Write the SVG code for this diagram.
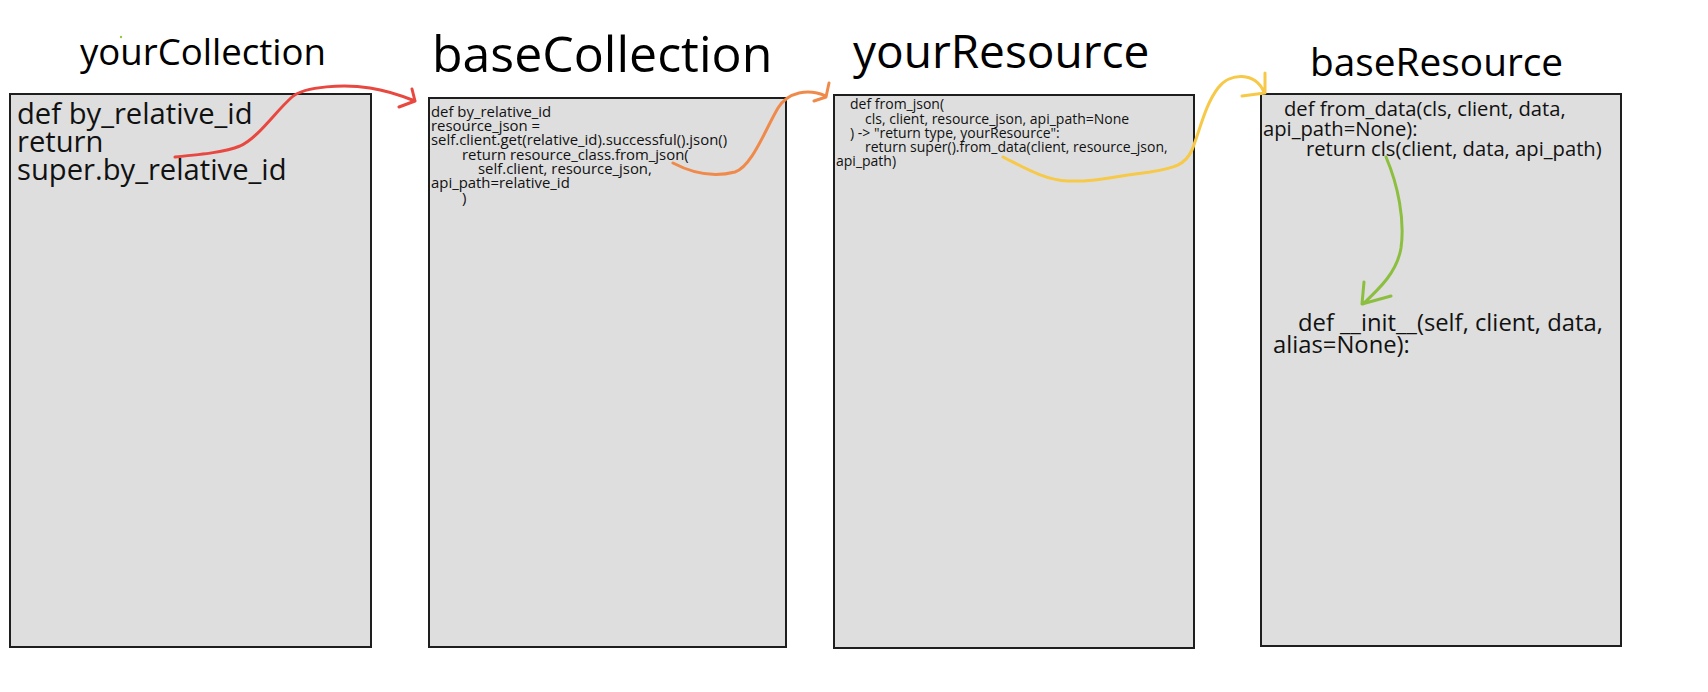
<svg xmlns="http://www.w3.org/2000/svg" width="1708" height="692" viewBox="0 0 1708 692">
<style>
text{font-family:"Open Sans","Noto Sans","DejaVu Sans",sans-serif;fill:#111}
.box{fill:#dedede;stroke:#1e1e1e;stroke-width:2}
.title{fill:#000}
.c1{font-size:29.2px}
.c2{font-size:14.9px}
.c3{font-size:14.0px}
.c4{font-size:20.2px}
.c5{font-size:23.8px}
.conn{fill:none;stroke-width:3;stroke-linecap:round;stroke-linejoin:round}
</style>
<rect width="1708" height="692" fill="#fff"/>
<circle cx="121" cy="37" r="1.2" fill="#9bc53d"/>
<g id="yourCollection">
<rect class="box" x="10" y="94" width="361" height="553"/>
<text class="title" x="80" y="65" font-size="36.6">yourCollection</text>
<text class="c1" x="17" y="124">def by_relative_id</text>
<text class="c1" x="17" y="152">return</text>
<text class="c1" x="17" y="180">super.by_relative_id</text>
</g>
<g id="baseCollection">
<rect class="box" x="429" y="98" width="357" height="549"/>
<text class="title" x="432" y="72" font-size="50">baseCollection</text>
<text class="c2" x="431" y="117">def by_relative_id</text>
<text class="c2" x="431" y="131">resource_json =</text>
<text class="c2" x="431" y="145">self.client.get(relative_id).successful().json()</text>
<text class="c2" x="462" y="160">return resource_class.from_json(</text>
<text class="c2" x="478" y="174">self.client, resource_json,</text>
<text class="c2" x="431" y="188">api_path=relative_id</text>
<text class="c2" x="462" y="203">)</text>
</g>
<g id="yourResource">
<rect class="box" x="834" y="95" width="360" height="553"/>
<text class="title" x="853" y="68" font-size="46">yourResource</text>
<text class="c3" x="850" y="109">def from_json(</text>
<text class="c3" x="865" y="124">cls, client, resource_json, api_path=None</text>
<text class="c3" x="850" y="138">) -&gt; "return type, yourResource":</text>
<text class="c3" x="865" y="152">return super().from_data(client, resource_json,</text>
<text class="c3" x="836" y="166">api_path)</text>
</g>
<g id="baseResource">
<rect class="box" x="1261" y="94" width="360" height="552"/>
<text class="title" x="1310" y="76" font-size="38.8">baseResource</text>
<text class="c4" x="1284" y="116">def from_data(cls, client, data,</text>
<text class="c4" x="1263" y="136">api_path=None):</text>
<text class="c4" x="1306" y="156">return cls(client, data, api_path)</text>
<text class="c5" x="1298" y="331">def __init__(self, client, data,</text>
<text class="c5" x="1273" y="353">alias=None):</text>
</g>
<g id="connectors">
<path class="conn" stroke="#e8483f" d="M175,157 C205,154 225,152 240,146 C258,138 275,112 292,97 C305,86 345,84 370,88 C390,91 405,97 415,101 M412,89 L415,101 L399,107"/>
<path class="conn" stroke="#f08a4b" d="M673,163 C690,172 712,178 735,172 C752,166 765,130 778,108 C788,92 808,88 826,96 M829,83 L826,97 L814,101"/>
<path class="conn" stroke="#f7c948" d="M1003,157 C1025,168 1045,180 1068,181 C1095,182 1110,177 1150,172 C1175,168 1185,165 1192,150 C1200,130 1205,105 1218,88 C1230,72 1255,72 1264,92 M1265,73 L1265,93 L1242,96"/>
<path class="conn" stroke="#8cbf3f" d="M1386,157 C1398,185 1405,220 1401,248 C1397,272 1380,288 1363,304 M1364,282 L1362,304 L1391,296"/>
</g>
</svg>
